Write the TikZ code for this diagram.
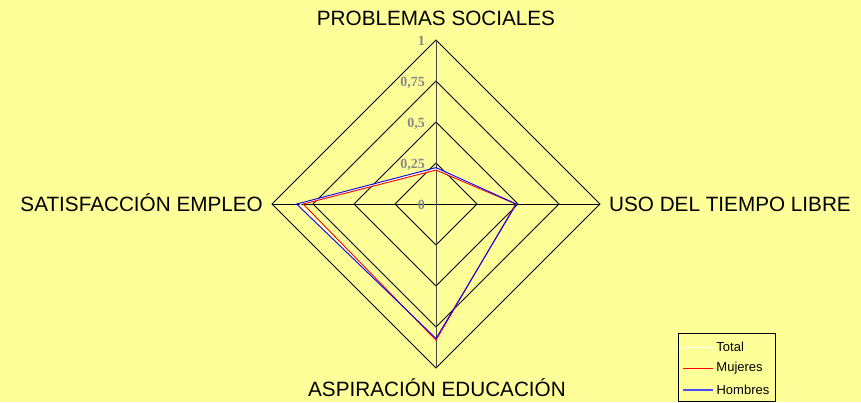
\documentclass[tikz,border=0pt]{standalone}
\usepackage{fontspec}
\usepackage{xcolor}
\setmainfont{Liberation Sans}
\newfontfamily\cifras{Liberation Serif}
\definecolor{fondo}{RGB}{255,255,153}
\definecolor{gris}{RGB}{136,136,136}
\definecolor{eje}{RGB}{70,70,70}
% one series of the radar: colour, top, right, bottom, left
\newcommand\serie[5]{\draw[#1,line width=0.9pt,line join=miter] (436,{204-164*#2}) -- ({436+164*#3},204) -- (436,{204+164*#4}) -- ({436-164*#5},204) -- cycle;}

\begin{document}
\begin{tikzpicture}[x=1pt,y=-1pt]
			\fill[fondo] (0,0) rectangle (861,402);
			\useasboundingbox (0,0) rectangle (861,402);
			\tikzstyle{rotulo}=[inner sep=0pt,anchor=base,font=\fontsize{20.7}{24}\selectfont]
			\tikzstyle{escala}=[inner sep=0pt,anchor=east,text=gris,font=\cifras\bfseries\fontsize{14}{16}\selectfont]
			\tikzstyle{leyenda}=[inner sep=0pt,anchor=west,text=black,font=\fontsize{13}{15}\selectfont]
			% rings
			\foreach \r in {0.25,0.5,0.75,1}
				\draw[line width=0.8pt] (436,{204-164*\r}) -- ({436+164*\r},204) -- (436,{204+164*\r}) -- ({436-164*\r},204) -- cycle;
			\draw[line width=0.8pt] (272,204) -- (600,204);
			\draw[eje,line width=1pt] (436,40) -- (436,368);
			% scale
			\node[escala] (v0) at (425,205) {0};
			\node[escala] (v1) at (425,165) {0,25};
			\node[escala] (v2) at (425,124) {0,5};
			\node[escala] (v3) at (425,83) {0,75};
			\node[escala] (v4) at (425,41) {1};
			% series
			\serie{white}{0.214}{0.488}{0.825}{0.83}
			\serie{red}{0.207}{0.486}{0.83}{0.81}
			\serie{blue}{0.222}{0.49}{0.82}{0.85}
			% axis names
			\node[rotulo] (ps) at (436,25.7) {PROBLEMAS SOCIALES};
			\node[rotulo,anchor=base east] (se) at (263,211.7) {SATISFACCIÓN EMPLEO};
			\node[rotulo,anchor=base west] (ut) at (609,211.7) {USO DEL TIEMPO LIBRE};
			\node[rotulo] (ae) at (437,396.7) {ASPIRACIÓN EDUCACIÓN};
			% legend
			\draw[line width=0.8pt] (678,333) rectangle (775,401);
			\coordinate (t1) at (683,347);
			\coordinate (t2) at (683,368.5);
			\coordinate (t3) at (683,390);
			\draw[white,line width=0.9pt] (t1) -- ++(30,0) node[leyenda,right=3pt] (lt) {Total};
			\draw[red,line width=0.9pt] (t2) -- ++(30,0) node[leyenda,right=3pt] (lm) {Mujeres};
			\draw[blue!70,line width=1.2pt] (t3) -- ++(30,0) node[leyenda,right=3pt] (lh) {Hombres};
		\end{tikzpicture}
\end{document}
